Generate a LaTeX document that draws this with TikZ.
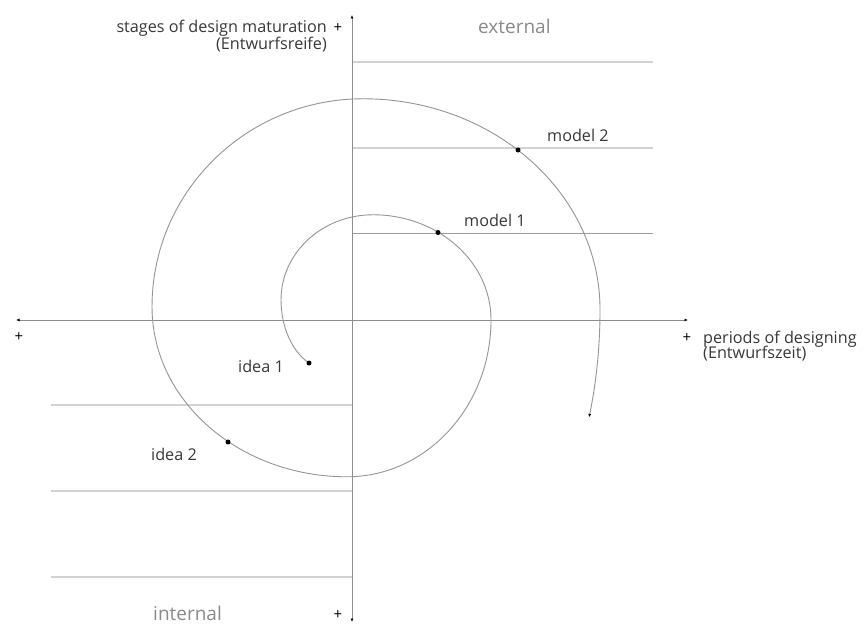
\documentclass[tikz,border=0pt]{standalone}
\usepackage{fontspec}
\setmainfont{Open Sans}
\usetikzlibrary{arrows.meta}
\definecolor{axisgray}{HTML}{8C8C8C}
\definecolor{spiralgray}{HTML}{959595}
\definecolor{levelgray}{HTML}{D2D2D2}
\definecolor{textdark}{HTML}{383838}
\definecolor{textlight}{HTML}{8A8A8A}
\tikzset{
  axisline/.style={draw=axisgray, line width=0.9pt, {Latex[length=3.5pt,width=3pt,black]}-{Latex[length=3.5pt,width=3pt,black]}},
  levelthick/.style={draw=levelgray, line width=2pt},
  levelthin/.style={draw=axisgray!85, line width=0.9pt},
  spiralline/.style={draw=spiralgray, line width=0.9pt, -{Latex[length=3.5pt,width=3pt,black]}},
  dotmark/.style={circle, fill=black, inner sep=0pt, minimum size=5pt},
  lab/.style={inner sep=0pt, font=\fontsize{16.2}{17}\selectfont, text=textdark},
  zone/.style={inner sep=0pt, text depth=0pt, font=\fontsize{19}{21}\selectfont, text=textlight},
  plus/.style={inner sep=0pt, font=\fontsize{15}{16}\selectfont, text=black},
}
\begin{document}
\begin{tikzpicture}[x=1pt, y=-1pt]
\useasboundingbox (0,0) rectangle (866,623);
\fill[white] (0,0) rectangle (866,623);

% axis end points
\coordinate (vtop) at (352,15);
\coordinate (vbot) at (352,622);
\coordinate (hleft) at (16,320);
\coordinate (hright) at (688,320);

% level lines (right side)
\coordinate (r1a) at (352,62);  \coordinate (r1b) at (653,62);
\coordinate (r2a) at (352,148); \coordinate (r2b) at (653,148);
\coordinate (r3a) at (352,233); \coordinate (r3b) at (653,233);
\draw[levelthick] (r1a) -- (r1b);
\draw[levelthick] (r2a) -- (r2b);
\draw[levelthin] (r3a) -- (r3b);

% level lines (left side)
\coordinate (l1a) at (51,405); \coordinate (l1b) at (352,405);
\coordinate (l2a) at (51,491); \coordinate (l2b) at (352,491);
\coordinate (l3a) at (51,577); \coordinate (l3b) at (352,577);
\draw[levelthick] (l1a) -- (l1b);
\draw[levelthick] (l2a) -- (l2b);
\draw[draw=levelgray, line width=1.6pt] (l3a) -- (l3b);

% axes
\draw[axisline] (vbot) -- (vtop);
\draw[axisline] (hleft) -- (hright);

% spiral from quarter ellipses
\coordinate (sstart) at (309,363);
\draw[spiralline] (sstart)
  arc[start angle=115.4, end angle=180, x radius=49,  y radius=70]
  arc[start angle=180,   end angle=270, x radius=92,  y radius=85]
  arc[start angle=270,   end angle=360, x radius=118, y radius=105]
  arc[start angle=0,     end angle=90,  x radius=144, y radius=157]
  arc[start angle=90,    end angle=180, x radius=195, y radius=170]
  arc[start angle=180,   end angle=270, x radius=211, y radius=208]
  arc[start angle=270,   end angle=360, x radius=237, y radius=211]
  arc[start angle=0,     end angle=17.4, x radius=240, y radius=360];

% dots on spiral
\node[dotmark] (idea1) at (sstart) {};
\node[dotmark] (idea2) at (228,442) {};
\node[dotmark] (model1) at (438,232.5) {};
\node[dotmark] (model2) at (518,150) {};

% labels
\node[lab, anchor=base west] (tidea1) at (238,372.5) {idea 1};
\node[lab, anchor=base west] (tidea2) at (151,460.5) {idea 2};
\node[lab, anchor=base west] (tmodel1) at (464,226.5) {model 1};
\node[lab, anchor=base west] (tmodel2) at (547,141.5) {model 2};

\node[lab, anchor=base east] (ystage) at (327,33) {stages of design maturation};
\node[lab, anchor=base east] (yger) at (327,50) {(Entwurfsreife)};
\node[lab, anchor=base west] (xper) at (703,343) {periods of designing};
\node[lab, anchor=base west] (xger) at (703,358.5) {(Entwurfszeit)};

\node[zone, anchor=base west] (ext) at (478,34) {external};
\node[zone, anchor=base west] (int) at (153,620) {internal};

\node[plus] (ptop) at (338,28) {+};
\node[plus] (pbot) at (338,615) {+};
\node[plus] (pleft) at (19,337) {+};
\node[plus] (pright) at (687,338) {+};
\end{tikzpicture}
\end{document}
